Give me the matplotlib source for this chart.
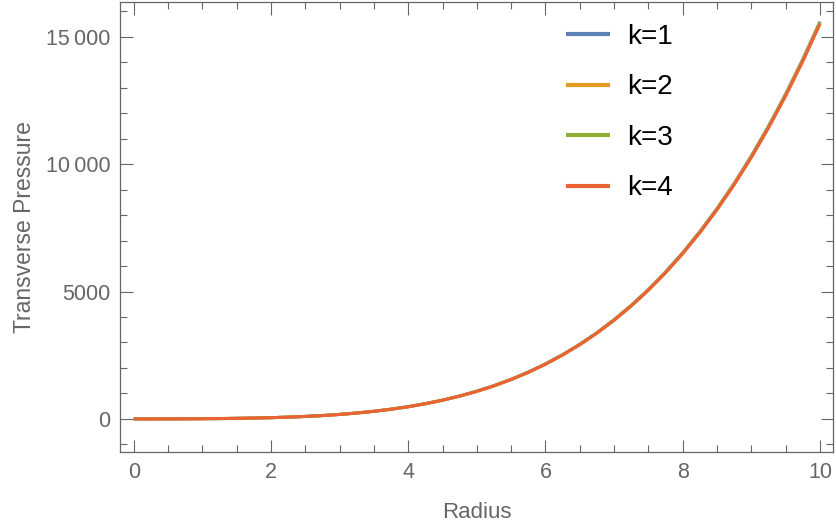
import numpy as np
import matplotlib
matplotlib.use("Agg")
import matplotlib.pyplot as plt
from matplotlib.ticker import MultipleLocator, FuncFormatter

plt.rcParams['font.family'] = ['Liberation Sans', 'DejaVu Sans']

radius = [0, 0.25, 0.5, 0.75, 1, 1.25, 1.5, 1.75, 2, 2.25, 2.5, 2.75, 3, 3.25, 3.5, 3.75,
          4, 4.25, 4.5, 4.75, 5, 5.25, 5.5, 5.75, 6, 6.25, 6.5, 6.75, 7, 7.25, 7.5, 7.75,
          8, 8.25, 8.5, 8.75, 9, 9.25, 9.5, 9.75, 10]
p_k1 = [0, 0.4, 1.6, 3.9, 7.5, 13, 21, 32, 48, 69, 96, 131, 176, 231, 299, 381,
        480, 598, 737, 899, 1088, 1305, 1554, 1838, 2160, 2523, 2931, 3387, 3896, 4460, 5084, 5772,
        6528, 7357, 8264, 9252, 10328, 11495, 12759, 14126, 15600]
p_k2 = [0, 0.4, 1.6, 3.9, 7.5, 13, 21, 32, 48, 69, 96, 131, 176, 231, 299, 381,
        479, 597, 735, 897, 1086, 1302, 1551, 1834, 2156, 2518, 2925, 3380, 3888, 4451, 5074, 5760,
        6515, 7342, 8247, 9233, 10307, 11472, 12733, 14098, 15569]
p_k3 = [0, 0.4, 1.6, 3.9, 7.5, 13, 21, 32, 48, 69, 96, 131, 176, 231, 298, 380,
        478, 596, 734, 895, 1084, 1300, 1548, 1831, 2151, 2513, 2919, 3373, 3880, 4442, 5064, 5749,
        6502, 7328, 8231, 9215, 10287, 11449, 12708, 14070, 15538]
p_k4 = [0, 0.4, 1.6, 3.9, 7.5, 13, 21, 32, 48, 68, 95, 130, 175, 230, 297, 379,
        477, 594, 733, 894, 1082, 1297, 1545, 1827, 2147, 2508, 2913, 3367, 3873, 4433, 5054, 5737,
        6489, 7313, 8214, 9196, 10266, 11426, 12682, 14041, 15506]
labels = ["k=1", "k=2", "k=3", "k=4"]
colors = ["#5E81B5", "#E19C24", "#8FB032", "#EB6235"]

fig = plt.figure(figsize=(8.36, 5.25), dpi=100)
ax = fig.add_axes([120/836, 1-452/525, (833-120)/836, (452-2)/525])

for ys, lab, c in zip([p_k1, p_k2, p_k3, p_k4], labels, colors):
    ax.plot(radius, ys, color=c, lw=2.2, label=lab, solid_capstyle='butt')

ax.set_xlim(-0.2, 10.19)
ax.set_ylim(-1300, 16370)

gray = "#666666"
ax.xaxis.set_major_locator(MultipleLocator(2))
ax.xaxis.set_minor_locator(MultipleLocator(0.5))
ax.yaxis.set_major_locator(MultipleLocator(5000))
ax.yaxis.set_minor_locator(MultipleLocator(1000))

def yfmt(v, pos):
    v = int(round(v))
    if abs(v) >= 10000:
        s = f"{v:d}"
        return s[:-3] + "\u2009" + s[-3:]
    return f"{v:d}"

ax.yaxis.set_major_formatter(FuncFormatter(yfmt))
ax.tick_params(which='both', direction='in', top=True, right=True, color=gray, width=0.8)
ax.tick_params(which='major', length=9, labelsize=15.5, labelcolor=gray, pad=7)
ax.tick_params(which='minor', length=5)
for s in ax.spines.values():
    s.set_color(gray)
    s.set_linewidth(0.9)

ax.set_xlabel("Radius", fontsize=16, color=gray, labelpad=14)
ax.set_ylabel("Transverse Pressure", fontsize=16.5, color=gray, labelpad=7)

leg = ax.legend(loc='upper left', bbox_to_anchor=(541/836, 1-(-1)/525), bbox_transform=fig.transFigure,
                frameon=False, fontsize=20, handlelength=1.58, handletextpad=0.61, labelspacing=0.88)
for line in leg.get_lines():
    line.set_linewidth(3)

fig.savefig("out.png", dpi=100)
